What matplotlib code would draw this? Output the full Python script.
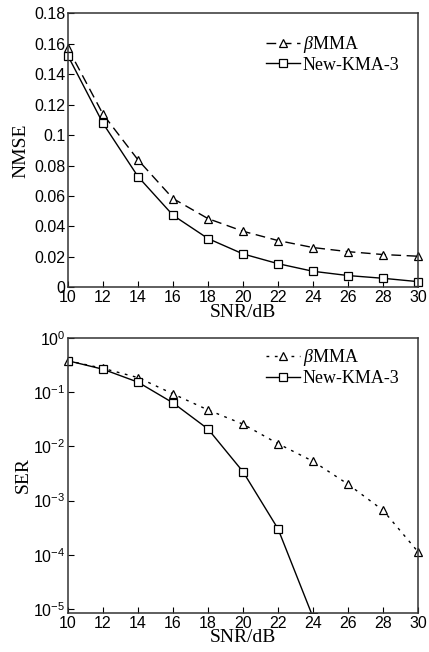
import matplotlib
matplotlib.use("Agg")
import matplotlib.pyplot as plt
import matplotlib.ticker as mticker

plt.rcParams["font.family"] = "Liberation Sans"
plt.rcParams["mathtext.fontset"] = "custom"
plt.rcParams["mathtext.rm"] = "Liberation Sans"
plt.rcParams["mathtext.it"] = "Liberation Serif:italic"

# ── Data ───────────────────────────────────────────────────────────────────
snr = [10, 12, 14, 16, 18, 20, 22, 24, 26, 28, 30]

nmse_bmma = [0.157, 0.1137, 0.0837, 0.0583, 0.0451, 0.0368, 0.0307, 0.0261, 0.0234, 0.0215, 0.0204]
nmse_kma3 = [0.152, 0.1077, 0.0727, 0.0473, 0.0320, 0.0219, 0.0155, 0.0105, 0.0077, 0.0059, 0.0037]

ser_bmma = [0.38, 0.275, 0.186, 0.093, 0.047, 0.0257, 0.0112, 0.0053, 0.0020, 6.6e-4, 1.13e-4]
snr_kma3 = [10, 12, 14, 16, 18, 20, 22, 24]
ser_kma3 = [0.38, 0.265, 0.153, 0.0635, 0.0209, 0.0034, 3.0e-4, 7.0e-6]

xticks = [10, 12, 14, 16, 18, 20, 22, 24, 26, 28, 30]
nmse_ticks = [0, 0.02, 0.04, 0.06, 0.08, 0.1, 0.12, 0.14, 0.16, 0.18]
nmse_ticklabels = ["0", "0.02", "0.04", "0.06", "0.08", "0.1", "0.12", "0.14", "0.16", "0.18"]

label_b = r"$\beta$MMA"
label_k = "New-KMA-3"

serif = "Liberation Serif"
mk = dict(markersize=6, markerfacecolor="white", markeredgecolor="black", markeredgewidth=0.9)
legprop = {"family": serif, "size": 13}

fig = plt.figure(figsize=(4.29, 6.52), dpi=100)
ax1 = fig.add_axes([0.1585, 0.5594, 0.816, 0.4202])
ax2 = fig.add_axes([0.1585, 0.0598, 0.816, 0.4218])


def style(ax):
    for s in ax.spines.values():
        s.set_color("#333333")
        s.set_linewidth(1.1)
    ax.tick_params(direction="in", length=4, width=0.8, labelsize=11.5, top=False, right=False, pad=2)
    ax.set_xlim(10, 30)
    ax.set_xticks(xticks)
    ax.set_xlabel("SNR/dB", fontsize=14, family=serif, labelpad=-1)


# ── NMSE ───────────────────────────────────────────────────────────────────
ax1.plot(snr, nmse_bmma, color="black", lw=1.0, ls=(0, (7, 4)), marker="^", label=label_b, clip_on=False, **mk)
ax1.plot(snr, nmse_kma3, color="black", lw=1.0, ls="-", marker="s", label=label_k, clip_on=False, **mk)
style(ax1)
ax1.set_ylim(0, 0.18)
ax1.set_yticks(nmse_ticks)
ax1.set_yticklabels(nmse_ticklabels)
ax1.set_ylabel("NMSE", fontsize=14, family=serif, labelpad=3)
ax1.legend(loc="upper left", frameon=False, prop=legprop, borderpad=0, borderaxespad=0,
           handlelength=1.9, handletextpad=0.15, labelspacing=0.1,
           bbox_to_anchor=(0.565, 0.925))

# ── SER ────────────────────────────────────────────────────────────────────
ax2.semilogy(snr, ser_bmma, color="black", lw=1.0, ls=(0, (2, 4)), marker="^", label=label_b, clip_on=False, **mk)
ax2.semilogy(snr_kma3, ser_kma3, color="black", lw=1.0, ls="-", marker="s", label=label_k, **mk)
style(ax2)
ax2.set_ylim(8.4e-6, 1)
ax2.yaxis.set_major_locator(mticker.LogLocator(base=10, numticks=10))
ax2.yaxis.set_minor_locator(mticker.NullLocator())
ax2.set_ylabel("SER", fontsize=14, family=serif, labelpad=1)
ax2.legend(loc="upper left", frameon=False, prop=legprop, borderpad=0, borderaxespad=0,
           handlelength=1.9, handletextpad=0.15, labelspacing=0.1,
           bbox_to_anchor=(0.565, 0.967))

fig.savefig("out.png", dpi=100)
